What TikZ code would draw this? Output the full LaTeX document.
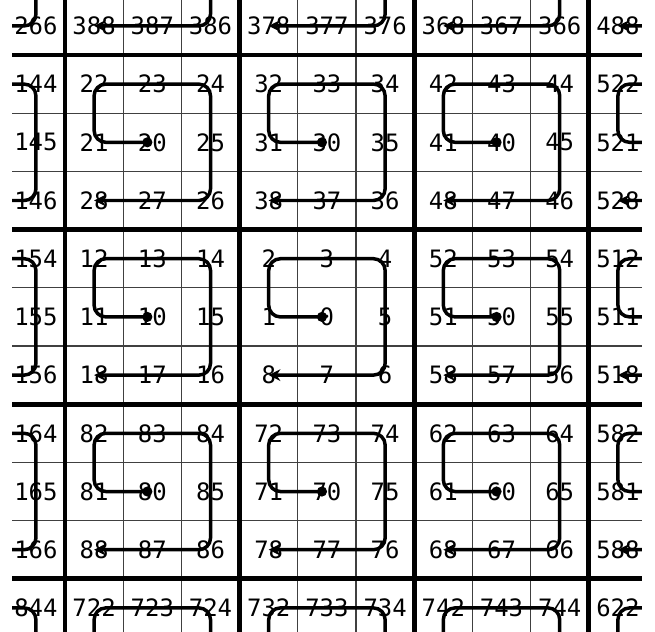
\documentclass[tikz,border=0pt]{standalone}
\usepackage{fontspec}
\usepackage{tikz}
\usetikzlibrary{arrows.meta}
\newfontfamily\zahlfont{DejaVu Sans Mono}

\begin{document}
\begin{tikzpicture}[x=1cm, y=-1cm,
		zahl/.style={font=\zahlfont\fontsize{11.7}{12}\selectfont, inner sep=0pt},
		duenn/.style={black!75, line width=0.55pt},
		dick/.style={black, line width=2.4pt},
		spirale/.style={line width=1.7pt, rounded corners=0.2cm,
			{Circle[length=0.17cm]}-{Stealth[length=0.2cm, width=0.2cm]}}]
	
	\useasboundingbox (-1.117,-0.945) rectangle (10.137,9.897);
	
	\begin{scope}
		\clip (-0.91,-0.945) rectangle (9.91,9.897);
		
		% Gitternetz
		\draw[duenn] (-2,-2) grid (11,11);
		\foreach \k in {0,3,6,9} {
			\draw[dick] (\k,-2) -- (\k,11);
			\draw[dick] (-2,\k) -- (11,\k);
		}
		
		% Bloecke: Praefix / Spalte / Zeile
		\foreach \p/\bx/\by [count=\k] in {{}/1/1, 1/0/1, 2/0/0, 3/1/0, 4/2/0, 5/2/1, 6/2/2, 7/1/2, 8/0/2,
				26/-1/-1, 38/0/-1, 37/1/-1, 36/2/-1, 48/3/-1,
				14/-1/0, 15/-1/1, 16/-1/2, 52/3/0, 51/3/1, 58/3/2,
				84/-1/3, 72/0/3, 73/1/3, 74/2/3, 62/3/3} {
			% Zellen und Beschriftung
			\foreach \d/\dx/\dy in {0/1/1, 1/0/1, 2/0/0, 3/1/0, 4/2/0, 5/2/1, 6/2/2, 7/1/2, 8/0/2} {
				\pgfmathtruncatemacro\cx{3*\bx+\dx}
				\pgfmathtruncatemacro\cy{3*\by+\dy}
				\coordinate (z\k-\d) at (\cx+0.5,\cy+0.5);
				\pgfmathtruncatemacro\sicht{and(and(\cx>-2,\cx<10),and(\cy>-2,\cy<10))}
				\ifnum\sicht=1
					\node[zahl] (n\k-\d) at (z\k-\d) {\p\d};
				\fi
			}
			% Spirale
			\draw[spirale] (z\k-0) -- (z\k-1) -- (z\k-2) -- (z\k-3) -- (z\k-4)
				-- (z\k-5) -- (z\k-6) -- (z\k-7) -- (z\k-8);
		}
	\end{scope}
\end{tikzpicture}
\end{document}
